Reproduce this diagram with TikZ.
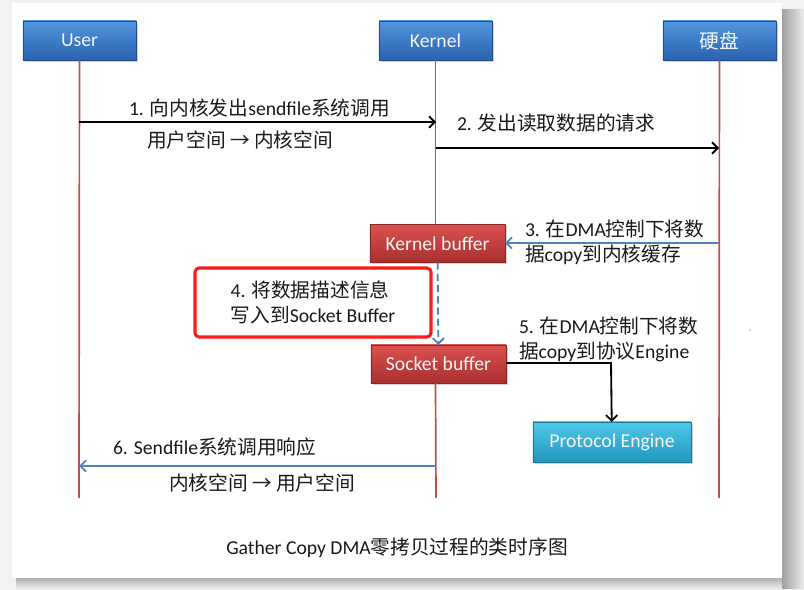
\documentclass[tikz,border=0pt]{standalone}
\usepackage{fontspec}
\setmainfont{Carlito}
\newfontfamily\cjk{Noto Sans CJK SC}
\newcommand{\zh}[1]{{\cjk #1}}
\usetikzlibrary{arrows.meta,shadows}
\definecolor{lifered}{HTML}{C0504D}
\definecolor{msgblue}{HTML}{4F81BD}
\definecolor{noteRed}{HTML}{FF1A1A}
\definecolor{blueTop}{HTML}{5295DE}
\definecolor{blueBot}{HTML}{2A62AE}
\definecolor{redTop}{HTML}{DA524F}
\definecolor{redBot}{HTML}{A8302E}
\definecolor{cyanTop}{HTML}{50C8E8}
\definecolor{cyanBot}{HTML}{2296BC}

\begin{document}
\begin{tikzpicture}[x=0.025cm, y=-0.025cm]
\tikzset{ >={Straight Barb[length=4pt,width=8pt]}, inner sep=0pt, outer sep=0pt,
  every node/.style={font=\fontsize{14}{17.8}\selectfont, text=black!90},
  box/.style={draw=#1, line width=0.4pt, text=white!92!gray,
    drop shadow={shadow xshift=1.2pt, shadow yshift=-1.2pt, opacity=0.35}},
  actor/.style={box=blueBot!80!black, top color=blueTop, bottom color=blueBot,
    minimum width=2.825cm, minimum height=0.975cm},
  buffer/.style={box=redBot!80!black, top color=redTop, bottom color=redBot,
    minimum width=3.375cm, minimum height=0.95cm},
  engine/.style={box=cyanBot!80!black, top color=cyanTop, bottom color=cyanBot,
    minimum width=3.95cm, minimum height=1.0cm},
  life/.style={lifered, line width=1.2pt},
  msg/.style={->, line width=1.3pt},
  reply/.style={->, msgblue, line width=1.3pt},
}
\useasboundingbox (0,0) rectangle (804,590);

% page and its shadow
\fill [gray!10] (0,0) rectangle (804,590);
\shade [left color=gray!75, right color=gray!15] (782,10) rectangle (804,588);
\shade [top color=gray!60, bottom color=gray!10] (16,578) rectangle (782,590);
\fill [white] (12,3) rectangle (782,578);

\node [actor] (user)   at (79.5,40.5)  {User};
\node [actor] (kernel) at (435.5,40.5) {Kernel};
\node [actor] (disk)   at (719.5,40.5) {\zh{硬盘}};

\node [buffer] (kbuf) at (437.5,243.5) {Kernel buffer};
\node [buffer] (sbuf) at (438.5,364)   {Socket buffer};
\node [engine] (pe)   at (612,442)     {Protocol Engine};

\coordinate (uend) at (79,498);
\coordinate (kend) at (436,498);
\coordinate (dend) at (719,498);

\draw [life] (user) -- (uend);
\draw [life] (kernel.south) -- (kernel.south |- kbuf.north);
\draw [life] (kernel.south |- sbuf.south) -- (kend);
\draw [life] (disk) -- (dend);

\coordinate (U1) at (79,122);
\coordinate (K1) at (436,122);
\coordinate (K2) at (436,148);
\coordinate (D2) at (719,148);
\coordinate (D3) at (719,243);
\coordinate (C5) at (611,363);
\coordinate (K6) at (436,466);
\coordinate (U6) at (79,466);

\draw [msg] (U1) -- (K1);
\draw [msg] (K2) -- (D2);
\draw [reply] (D3) -- (kbuf.east |- D3);
\draw [reply, dashed, dash pattern=on 5pt off 3pt] (kbuf) -- (sbuf);
\draw [msg] (sbuf.east |- C5) -- (C5) -- (pe);
\draw [reply] (K6) -- (U6);

\node [anchor=west] (t1a) at (129,108) {1. \zh{向内核发出}sendfile\zh{系统调用}};
\node [anchor=west] (t1b) at (147,140) {\zh{用户空间 → 内核空间}};
\node [anchor=west] (t2)  at (457,123) {2. \zh{发出读取数据的请求}};
\node [anchor=west, align=left] (t3) at (525,242.5)
  {3. \zh{在}DMA\zh{控制下将数}\\\zh{据}copy\zh{到内核缓存}};
\node [draw=noteRed, line width=2.2pt, rounded corners=3pt, align=left,
  minimum width=5.9cm, minimum height=1.725cm] (note) at (313,302.5)
  {4. \zh{将数据描述信息}\\\zh{写入到}Socket Buffer};
\node [anchor=west, align=left] (t5) at (519,339.5)
  {5. \zh{在}DMA\zh{控制下将数}\\\zh{据}copy\zh{到协议}Engine};
\node [anchor=west] (t6a) at (113,447) {6. Sendfile\zh{系统调用响应}};
\node [anchor=west] (t6b) at (169,483) {\zh{内核空间 → 用户空间}};

\node (caption) at (397,548) {Gather Copy DMA\zh{零拷贝过程的类时序图}};

\fill [black!70] (750,330) circle (0.4pt);

\end{tikzpicture}
\end{document}
